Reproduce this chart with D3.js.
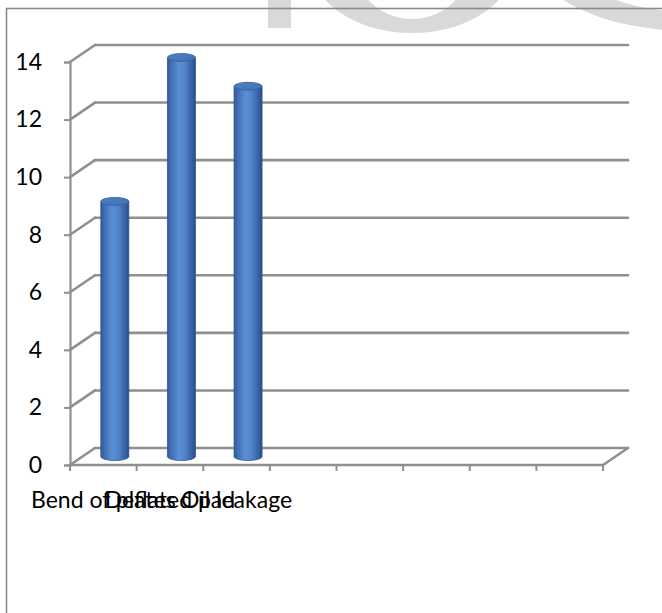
<!DOCTYPE html>
<html>
<head>
<meta charset="utf-8">
<script src="https://cdn.jsdelivr.net/npm/d3@7"></script>
<style>
  html, body { margin: 0; padding: 0; background: #fff; }
  svg { display: block; }
  text { font-family: Lato, "Open Sans", sans-serif; fill: #000; }
</style>
</head>
<body>
<svg id="chart" width="662" height="613"></svg>
<script>
// ---- data ----
const categories = ["Bend of plates", "Deflated pad", "Oil leakage", "", "", "", "", ""];
const values = [9, 14, 13, null, null, null, null, null];
const yTicks = [0, 2, 4, 6, 8, 10, 12, 14];

const svg = d3.select("#chart");

// watermark (decorative, partially clipped at top)
const ring = (cx, cy, rx, ry, irx, iry) =>
  `M${cx - rx},${cy} a${rx},${ry} 0 1,0 ${2 * rx},0 a${rx},${ry} 0 1,0 ${-2 * rx},0 Z ` +
  `M${cx - irx},${cy} a${irx},${iry} 0 1,0 ${2 * irx},0 a${irx},${iry} 0 1,0 ${-2 * irx},0 Z`;
const wm = svg.append("g").attr("fill", "#d9d9d9");
wm.append("rect").attr("x", 268).attr("y", 0).attr("width", 23).attr("height", 28);
wm.append("path").attr("fill-rule", "evenodd").attr("d", ring(412, -37, 102, 70, 58, 56));
wm.append("path").attr("fill-rule", "evenodd").attr("d", ring(690, -50, 161, 81, 125, 62));

// frame
svg.append("rect").attr("x", 6.5).attr("y", 8.5).attr("width", 700).attr("height", 700)
  .attr("fill", "none").attr("stroke", "#8a8a8a").attr("stroke-width", 1.6);

// ---- scales ----
const x0 = 70, x1 = 603;
const dx = 25, dy = -17;
const x = d3.scaleBand().domain(d3.range(categories.length)).range([x0, x1]).padding(0);
const y = d3.scaleLinear().domain([0, 14]).range([465, 62]);

const gridColor = "#8f8f8f";
const grid = svg.append("g").attr("stroke", gridColor).attr("stroke-width", 2.6)
  .attr("fill", "none").attr("stroke-linecap", "round");

// back wall + side wall gridlines
yTicks.forEach(t => {
  grid.append("line").attr("x1", x0 + dx).attr("y1", y(t) + dy).attr("x2", x1 + dx).attr("y2", y(t) + dy);
  grid.append("line").attr("x1", x0).attr("y1", y(t)).attr("x2", x0 + dx).attr("y2", y(t) + dy);
});
// floor front edge and right edge
grid.append("line").attr("x1", x0).attr("y1", y(0)).attr("x2", x1).attr("y2", y(0));
grid.append("line").attr("x1", x1).attr("y1", y(0)).attr("x2", x1 + dx).attr("y2", y(0) + dy);

// y axis
const yAxis = d3.axisLeft(y).tickValues(yTicks).tickSize(6).tickPadding(22).tickFormat(d3.format("d"));
const gy = svg.append("g").attr("transform", `translate(${x0},0)`).call(yAxis);
gy.select(".domain").attr("stroke", gridColor).attr("stroke-width", 2.2);
gy.selectAll(".tick line").attr("stroke", gridColor).attr("stroke-width", 2);
gy.selectAll(".tick text").attr("font-size", 23).attr("font-family", "Lato, sans-serif").attr("fill", "#000");

// x axis ticks (category boundaries)
const bounds = d3.range(categories.length + 1).map(i => x0 + i * x.bandwidth());
svg.append("g").selectAll("line").data(bounds).join("line")
  .attr("x1", d => d).attr("x2", d => d).attr("y1", y(0)).attr("y2", y(0) + 6)
  .attr("stroke", gridColor).attr("stroke-width", 2);

// category labels
svg.append("g").selectAll("text").data(categories).join("text")
  .attr("x", (d, i) => x(i) + x.bandwidth() / 2)
  .attr("y", 508)
  .attr("text-anchor", "middle")
  .attr("font-size", 23)
  .text(d => d);

// ---- cylinders ----
const defs = svg.append("defs");
const gBody = defs.append("linearGradient").attr("id", "body").attr("x1", "0").attr("x2", "1").attr("y1", "0").attr("y2", "0");
[["0%", "#2f5a98"], ["12%", "#3f6db0"], ["40%", "#5b8fd4"], ["60%", "#5287cc"], ["88%", "#3561a3"], ["100%", "#264d86"]]
  .forEach(([o, c]) => gBody.append("stop").attr("offset", o).attr("stop-color", c));
const gTop = defs.append("linearGradient").attr("id", "top").attr("x1", "0").attr("x2", "1").attr("y1", "0").attr("y2", "1");
[["0%", "#4f80c6"], ["100%", "#3f6fb4"]].forEach(([o, c]) => gTop.append("stop").attr("offset", o).attr("stop-color", c));

const bw = 28, ry = 4;
const bars = svg.append("g");
values.forEach((v, i) => {
  if (v == null) return;
  const cx = x(i) + x.bandwidth() / 2 + dx / 2 - 1;
  const base = y(0) + dy / 2;
  const top = y(v) + dy / 2 + ry;
  const g = bars.append("g");
  g.append("ellipse").attr("cx", cx).attr("cy", base).attr("rx", bw / 2).attr("ry", ry)
    .attr("fill", "url(#body)").attr("stroke", "#2d5590").attr("stroke-width", 0.8);
  g.append("rect").attr("x", cx - bw / 2).attr("y", top).attr("width", bw).attr("height", base - top)
    .attr("fill", "url(#body)");
  g.append("line").attr("x1", cx - bw / 2).attr("x2", cx - bw / 2).attr("y1", top).attr("y2", base)
    .attr("stroke", "#2d5590").attr("stroke-width", 0.8);
  g.append("line").attr("x1", cx + bw / 2).attr("x2", cx + bw / 2).attr("y1", top).attr("y2", base)
    .attr("stroke", "#2d5590").attr("stroke-width", 0.8);
  g.append("ellipse").attr("cx", cx).attr("cy", top).attr("rx", bw / 2).attr("ry", ry)
    .attr("fill", "url(#top)").attr("stroke", "#35609f").attr("stroke-width", 0.8);
});
</script>
</body>
</html>
